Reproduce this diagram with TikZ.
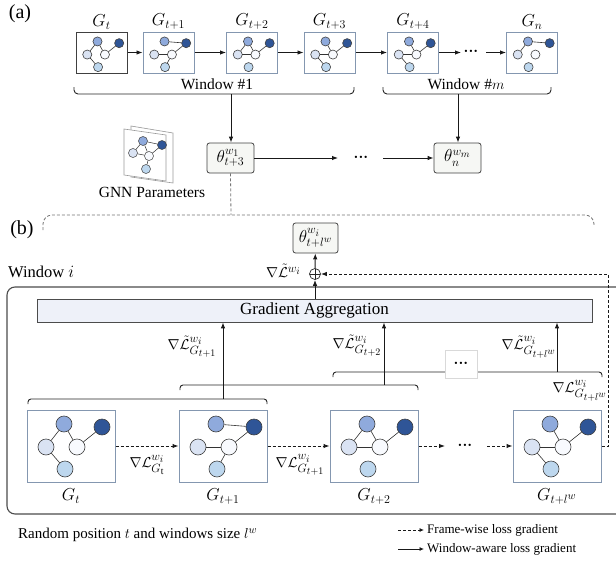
\documentclass[tikz,border=0pt]{standalone}
\usepackage{fontspec}
\setmainfont{Liberation Serif}
\usetikzlibrary{arrows.meta,calc}

% larger sub- and superscripts
\renewcommand\defaultscriptratio{.76}
\renewcommand\defaultscriptscriptratio{.62}

\definecolor{nT}{HTML}{8FAADC}
\definecolor{nD}{HTML}{2F5597}
\definecolor{nL}{HTML}{DAE3F3}
\definecolor{nC}{HTML}{F8FAFE}
\definecolor{nB}{HTML}{BDD7EE}
\definecolor{slate}{HTML}{8497B0}
\definecolor{aggfill}{HTML}{EEF1F9}
\definecolor{thfill}{HTML}{F6F7F4}

\tikzset{
  gn/.style={circle,draw=black!75,line width=0.6pt,minimum size=16pt,inner sep=0pt},
  gedge/.style={draw=black!80,line width=0.6pt},
  gframe/.style={draw=slate,line width=1pt,fill=white,inner sep=0pt},
  thbox/.style={draw=black!75,line width=0.8pt,fill=thfill,rounded corners=2.5pt,
    minimum width=47pt,minimum height=30pt,inner sep=0pt,font=\rmfamily\fontsize{16.5}{18}\selectfont},
  lab/.style={inner sep=1pt,font=\rmfamily\fontsize{15.5}{18}\selectfont},
  tlab/.style={inner sep=1pt,font=\rmfamily\fontsize{16.5}{19}\selectfont},
  blab/.style={inner sep=1pt,font=\rmfamily\fontsize{17}{19}\selectfont},
  arr/.style={-{Latex[length=6pt,width=4.5pt]},line width=0.9pt,draw=black!90},
  darr/.style={-{Latex[length=6pt,width=4.5pt]},line width=1pt,dash pattern=on 3pt off 2pt,draw=black!90},
  brace/.style={draw=black!85,line width=0.9pt,rounded corners=4pt},
  dotsnode/.style={inner sep=0pt,font=\rmfamily\fontsize{9.5}{10}\selectfont},
  legtext/.style={anchor=west,inner sep=0pt,font=\rmfamily\fontsize{13}{15}\selectfont}
}

% small five-node graph: name, centre x, centre y, scale, edges
\newcommand\minigraph[5]{%
  \begin{scope}[shift={(#2,#3)},scale=#4,transform shape]
    \node[gn,fill=nT] (#1T) at (-7,-22) {};
    \node[gn,fill=nD] (#1D) at (31,-19) {};
    \node[gn,fill=nL] (#1L) at (-25,1) {};
    \node[gn,fill=nC] (#1C) at (6,1) {};
    \node[gn,fill=nB] (#1B) at (-6,23) {};
    \foreach \u/\v in {#5}{\draw[gedge] (#1\u) -- (#1\v);}
  \end{scope}}

\begin{document}
\begin{tikzpicture}[x=1pt,y=-1pt]
\useasboundingbox (0,0) rectangle (616,562);

% ---------------- part (a) ----------------
\node[inner sep=0pt,font=\rmfamily\fontsize{20}{22}\selectfont] (pa) at (20,14) {(a)};

% snapshot sequence
\node[gframe,draw=black!75,minimum width=51pt,minimum height=41pt] (a1) at (101.5,52.5) {};
\node[gframe,minimum width=51pt,minimum height=41pt] (a2) at (168.5,52.5) {};
\node[gframe,minimum width=51pt,minimum height=41pt] (a3) at (252,52.5) {};
\node[gframe,minimum width=51pt,minimum height=41pt] (a4) at (329.5,52.5) {};
\node[gframe,minimum width=51pt,minimum height=41pt] (a5) at (413,52.5) {};
\node[gframe,minimum width=51pt,minimum height=41pt] (a6) at (532,52.5) {};

\minigraph{g1}{101.5}{54}{0.57}{T/L,T/C,C/D,L/B}
\minigraph{g2}{168.5}{54}{0.57}{T/D,L/C,C/D,C/B}
\minigraph{g3}{252}{54}{0.57}{T/L,T/C,L/C,C/D}
\minigraph{g4}{329.5}{54}{0.57}{T/C,C/D,L/C,L/B}
\minigraph{g5}{413}{54}{0.57}{T/C,C/D,L/C,L/B}
\minigraph{g6}{532}{54}{0.57}{T/D,T/L}

\node[tlab,anchor=south] (la1) at ([yshift=1pt]a1.north) {$G_t$};
\node[tlab,anchor=south] (la2) at ([yshift=1pt]a2.north) {$G_{t+1}$};
\node[tlab,anchor=south] (la3) at ([yshift=1pt]a3.north) {$G_{t+2}$};
\node[tlab,anchor=south] (la4) at ([yshift=1pt]a4.north) {$G_{t+3}$};
\node[tlab,anchor=south] (la5) at ([yshift=1pt]a5.north) {$G_{t+4}$};
\node[tlab,anchor=south] (la6) at ([yshift=1pt]a6.north) {$G_n$};

\draw[arr] (a1) -- (a2);
\draw[arr] (a2) -- (a3);
\draw[arr] (a3) -- (a4);
\draw[arr] (a4) -- (a5);
\coordinate (dA) at (461,52.5);
\node[dotsnode] (dots1) at (471,52.5) {\textbullet\,\textbullet\,\textbullet};
\coordinate (dB) at (486,52.5);
\draw[arr] (a5) -- (dA);
\draw[arr] (dB) -- (a6);

% windows
\coordinate (w1) at (231,94);
\coordinate (wm) at (458,94);
\draw[brace] (74,87) |- (w1) -| (354,87);
\draw[brace] (383,87) |- (wm) -| (551,87);
\node[lab] (lw1) at (217,84) {Window \#1};
\node[lab] (lwm) at (466,84) {Window \#$m$};

% parameters per window
\node[thbox] (th1) at (230.5,158) {$\theta^{w_1}_{t+3}$};
\node[thbox] (thn) at (457.5,158) {$\theta^{w_m}_{n}$};
\draw[arr] (w1) -- (w1 |- th1.north);
\draw[arr] (wm) -- (wm |- thn.north);
\coordinate (tA) at (338,158);
\node[dotsnode] (dots2) at (361,158) {\textbullet\,\textbullet\,\textbullet};
\coordinate (tB) at (383,158);
\draw[arr] (th1) -- (tA);
\draw[arr] (tB) -- (thn);

% GNN parameter icon
\draw[draw=black!40,fill=white,line width=0.6pt] (131,126) -- (173,133) -- (173,183) -- (131,177) -- cycle;
\draw[draw=black!40,fill=white,line width=0.6pt] (124,129) -- (166,135) -- (166,181) -- (124,175) -- cycle;
\begin{scope}[every node/.style={gn,minimum size=9pt,line width=0.5pt}]
  \node[fill=nT] (pT) at (143,141) {};
  \node[fill=nD] (pD) at (162,145) {};
  \node[fill=nL] (pL) at (133,153) {};
  \node[fill=nC] (pC) at (149,156) {};
  \node[fill=nB] (pB) at (146,169) {};
\end{scope}
\foreach \u/\v in {T/D,T/L,T/C,L/C,C/D,C/B}{\draw[gedge,line width=0.5pt] (p\u) -- (p\v);}
\node[lab] (gnnlab) at (152,192) {GNN Parameters};

% zoom link to part (b)
\coordinate (zl) at (231,215);
\draw[draw=black!55,line width=0.8pt,dash pattern=on 3pt off 2pt] (th1.south) -- (zl);
\draw[draw=black!55,line width=0.8pt,dash pattern=on 3pt off 2pt,rounded corners=9pt]
  (43,230) |- (594,215) -- (594,226);

% ---------------- part (b) ----------------
\node[inner sep=0pt,font=\rmfamily\fontsize{20}{22}\selectfont] (pb) at (22,230) {(b)};

\node[thbox,minimum width=45pt] (thw) at (315.5,238) {$\theta^{w_i}_{t+l^w}$};
\node[circle,draw=black!85,line width=0.7pt,minimum size=11pt,inner sep=0pt,
  path picture={\draw[line width=0.7pt] (path picture bounding box.north) -- (path picture bounding box.south)
    (path picture bounding box.west) -- (path picture bounding box.east);}] (op) at (315,274) {};
\node[lab,anchor=east] (lagg) at (302,271) {$\nabla\tilde{\mathcal{L}}^{w_i}$};
\node[anchor=west,inner sep=0pt,font=\rmfamily\fontsize{16.5}{19}\selectfont] (lwi) at (8,272) {Window $i$};

% window frame
\draw[draw=black!70,line width=1.1pt,rounded corners=8pt] (616,287) -- (7,287) -- (7,514) -- (616,514);

\node[draw=black!70,line width=0.8pt,fill=aggfill,minimum width=555pt,minimum height=23pt,inner sep=0pt,
  font=\rmfamily\fontsize{17}{19}\selectfont] (ga) at (314.5,310.5) {Gradient Aggregation};

\draw[arr] (ga.north -| op) -- (op);
\draw[arr] (op) -- (thw);

% snapshots in the window
\node[gframe,minimum width=88pt,minimum height=72pt] (b1) at (71,446) {};
\node[gframe,minimum width=88pt,minimum height=72pt] (b2) at (223,446) {};
\node[gframe,minimum width=88pt,minimum height=72pt] (b3) at (374,446) {};
\node[gframe,minimum width=88pt,minimum height=72pt] (b4) at (557,446) {};

\minigraph{h1}{71}{446}{1}{T/L,T/C,C/D,L/B}
\minigraph{h2}{223}{446}{1}{T/D,L/C,C/D,C/B}
\minigraph{h3}{374}{446}{1}{T/L,T/C,L/C,C/D}
\minigraph{h4}{557}{446}{1}{L/C,C/D,L/B,T/C}

\node[blab,anchor=north] (lb1) at ([yshift=-5pt]b1.south) {$G_t$};
\node[blab,anchor=north] (lb2) at ([yshift=-5pt]b2.south) {$G_{t+1}$};
\node[blab,anchor=north] (lb3) at ([yshift=-5pt]b3.south) {$G_{t+2}$};
\node[blab,anchor=north] (lb4) at ([yshift=-5pt]b4.south) {$G_{t+l^w}$};

% frame-wise gradients
\draw[darr] (b1) -- (b2);
\draw[darr] (b2) -- (b3);
\coordinate (eA) at (445,446);
\node[dotsnode] (dots3) at (465,446) {\textbullet\,\textbullet\,\textbullet};
\coordinate (eB) at (487,446);
\draw[darr] (b3) -- (eA);
\draw[darr] (eB) -- (b4);
\node[lab] (lf1) at (147,465) {$\nabla\mathcal{L}^{w_i}_{G_{\mathrm{t}}}$};
\node[lab] (lf2) at (300,465) {$\nabla\mathcal{L}^{w_i}_{G_{t+1}}$};
\node[lab] (lf4) at (580,391) {$\nabla\mathcal{L}^{w_i}_{G_{t+l^w}}$};

% feedback of the last frame gradient
\coordinate (fb1) at (608,446);
\coordinate (fb2) at (608,274);
\draw[darr] (b4.east) -- (fb1) -- (fb2) -- (op);

% window-aware gradients
\coordinate (sA) at (223,399);
\coordinate (sB) at (384,385);
\coordinate (sC) at (557,372);
\draw[brace,rounded corners=3pt] (28,404) |- (sA) -| (267,404);
\draw[brace,rounded corners=3pt] (180,390) |- (sB) -| (418,390);
\draw[brace,rounded corners=3pt] (333,377) |- (sC) -| (602,377);
\node[draw=black!15,fill=white,line width=0.6pt,minimum width=32pt,minimum height=28pt,inner sep=0pt,
  font=\rmfamily\fontsize{9.5}{10}\selectfont] (dbox) at (461,364) {\textbullet\,\textbullet\,\textbullet};
\draw[arr] (sA) -- (sA |- ga.south);
\draw[arr] (sB) -- (sB |- ga.south);
\draw[arr] (sC) -- (sC |- ga.south);
\node[lab] (lw1b) at (192,347) {$\nabla\tilde{\mathcal{L}}^{w_i}_{G_{t+1}}$};
\node[lab] (lw2b) at (357,346) {$\nabla\tilde{\mathcal{L}}^{w_i}_{G_{t+2}}$};
\node[lab] (lw4b) at (529,347) {$\nabla\tilde{\mathcal{L}}^{w_i}_{G_{t+l^w}}$};

% caption and legend
\node[anchor=west,inner sep=0pt,font=\rmfamily\fontsize{15}{18}\selectfont] (cap) at (18,535) {Random position $t$ and windows size $l^w$};
\coordinate (lgA) at (398,530);
\coordinate (lgB) at (424,530);
\coordinate (lgC) at (398,549);
\coordinate (lgD) at (424,549);
\draw[darr,line width=0.8pt,-{Latex[length=4.5pt,width=4pt]}] (lgA) -- (lgB);
\draw[arr,line width=0.8pt,-{Latex[length=4.5pt,width=4pt]}] (lgC) -- (lgD);
\node[legtext] (lg1) at (427,530) {Frame-wise loss gradient};
\node[legtext] (lg2) at (427,549) {Window-aware loss gradient};
\end{tikzpicture}
\end{document}
